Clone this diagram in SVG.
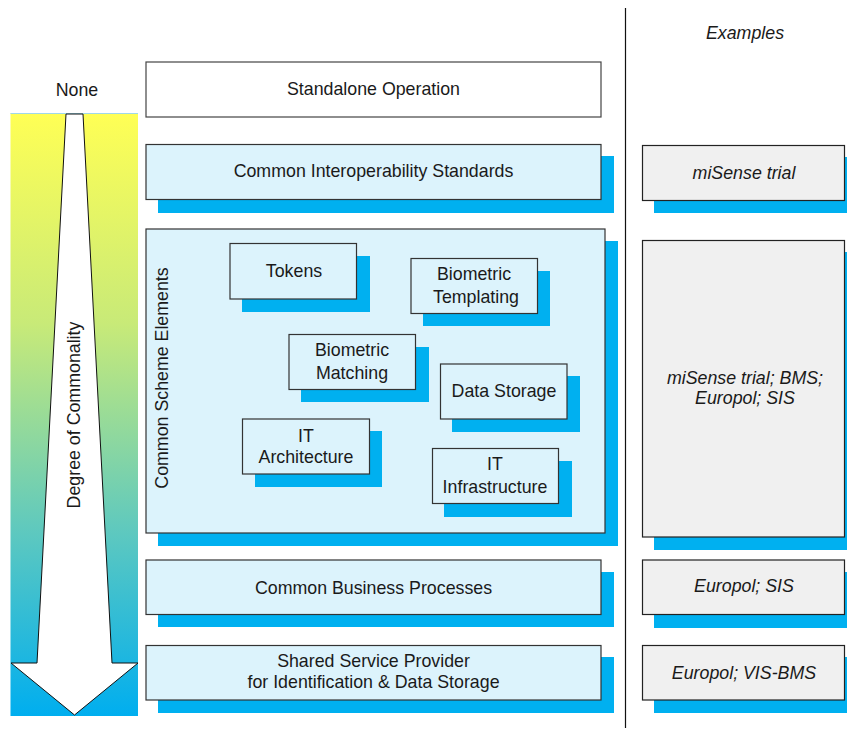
<svg xmlns="http://www.w3.org/2000/svg" width="847" height="729" viewBox="0 0 847 729">
<defs>
<linearGradient id="grad" x1="0" y1="0" x2="0" y2="1">
<stop offset="0" stop-color="#FFFF55"/>
<stop offset="0.35" stop-color="#C8EA78"/>
<stop offset="0.7" stop-color="#5CC8C0"/>
<stop offset="1" stop-color="#00AEEF"/>
</linearGradient>
<style>
text{font-family:"Liberation Sans",Arial,sans-serif;font-size:17.8px;fill:#1a1a1a;text-anchor:middle}
.it{font-style:italic}
.sh{fill:#00B0F0}
.lb{fill:#DCF3FC;stroke:#333;stroke-width:1.2}
.wb{fill:#fff;stroke:#444;stroke-width:1.2}
.gb{fill:#F0F0F0;stroke:#222;stroke-width:1.2}
</style>
</defs>
<rect width="847" height="729" fill="#fff"/>
<g id="scale">
<rect x="10.5" y="113" width="127.5" height="603" fill="url(#grad)"/>
<line x1="10.5" y1="113.5" x2="138" y2="113.5" stroke="#9fd8e8" stroke-width="1"/>
<polygon points="66,114 83,114 112,663 138,663 74.5,715 11,663 37,663" fill="#fff" stroke="#111" stroke-width="1"/>
<text x="77" y="96">None</text>
<text transform="translate(80,415) rotate(-90)">Degree of Commonality</text>
</g>
<g id="divider">
<line x1="625.5" y1="8" x2="625.5" y2="728" stroke="#111" stroke-width="1.2"/>
<text class="it" x="745" y="39">Examples</text>
</g>
<g id="standalone">
<rect class="wb" x="146" y="62" width="455" height="55"/>
<text x="373.5" y="95">Standalone Operation</text>
</g>
<g id="interop">
<rect class="sh" x="158" y="156" width="456" height="57"/>
<rect class="lb" x="146" y="144.5" width="455" height="55"/>
<text x="373.5" y="177">Common Interoperability Standards</text>
</g>
<g id="scheme">
<rect class="sh" x="158" y="241" width="460" height="305"/>
<rect class="lb" x="146" y="229" width="459" height="304"/>
<text transform="translate(168,378) rotate(-90)">Common Scheme Elements</text>
</g>
<g id="tokens">
<rect class="sh" x="242" y="256" width="128" height="56"/>
<rect class="lb" x="230" y="243.5" width="126.5" height="55.5"/>
<text x="294" y="277">Tokens</text>
</g>
<g id="templating">
<rect class="sh" x="423" y="271" width="127" height="55"/>
<rect class="lb" x="411" y="258.5" width="126.5" height="55"/>
<text x="474" y="280">Biometric</text>
<text x="476" y="303">Templating</text>
</g>
<g id="matching">
<rect class="sh" x="301" y="347" width="128" height="55"/>
<rect class="lb" x="289" y="334.5" width="126.5" height="55"/>
<text x="352" y="356">Biometric</text>
<text x="352" y="379">Matching</text>
</g>
<g id="storage">
<rect class="sh" x="452" y="376" width="128" height="56"/>
<rect class="lb" x="440.5" y="364" width="126.5" height="55"/>
<text x="504" y="397">Data Storage</text>
</g>
<g id="architecture">
<rect class="sh" x="255" y="431" width="127" height="56"/>
<rect class="lb" x="242.5" y="419" width="127" height="55"/>
<text x="306" y="442">IT</text>
<text x="306" y="463">Architecture</text>
</g>
<g id="infrastructure">
<rect class="sh" x="444" y="461" width="128" height="56"/>
<rect class="lb" x="432.5" y="448.5" width="126" height="55"/>
<text x="495" y="470">IT</text>
<text x="495" y="493">Infrastructure</text>
</g>
<g id="business">
<rect class="sh" x="158" y="572" width="456" height="55"/>
<rect class="lb" x="146" y="560" width="455" height="54.5"/>
<text x="373.5" y="594">Common Business Processes</text>
</g>
<g id="shared">
<rect class="sh" x="158" y="657" width="456" height="56"/>
<rect class="lb" x="146" y="645.5" width="455" height="54.5"/>
<text x="373.5" y="667">Shared Service Provider</text>
<text x="373.5" y="688">for Identification &amp; Data Storage</text>
</g>
<g id="ex1">
<rect class="sh" x="654" y="157" width="200" height="56"/>
<rect class="gb" x="642.5" y="145.5" width="202" height="55"/>
<text class="it" x="744" y="179">miSense trial</text>
</g>
<g id="ex2">
<rect class="sh" x="654" y="252" width="200" height="298"/>
<rect class="gb" x="642.5" y="240.5" width="202" height="296.5"/>
<text class="it" x="745" y="384">miSense trial; BMS;</text>
<text class="it" x="745" y="404">Europol; SIS</text>
</g>
<g id="ex3">
<rect class="sh" x="654" y="572" width="200" height="56"/>
<rect class="gb" x="642.5" y="560" width="202" height="54.5"/>
<text class="it" x="744" y="592">Europol; SIS</text>
</g>
<g id="ex4">
<rect class="sh" x="654" y="657" width="200" height="56"/>
<rect class="gb" x="642.5" y="645.5" width="202" height="54.5"/>
<text class="it" x="744" y="679">Europol; VIS-BMS</text>
</g>
</svg>
